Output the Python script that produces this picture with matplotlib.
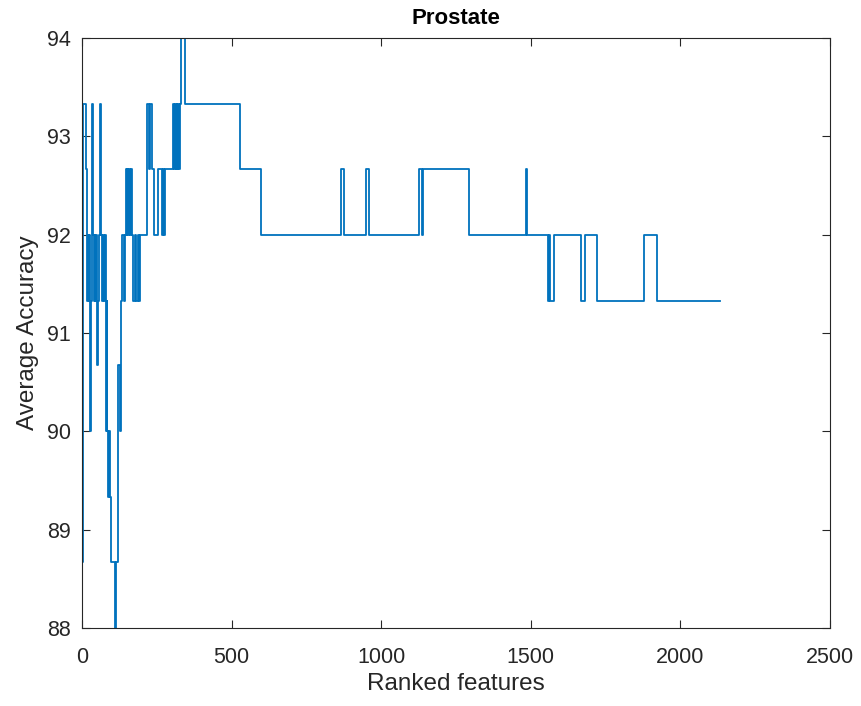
import matplotlib
matplotlib.use("Agg")
import matplotlib.pyplot as plt

plt.rcParams['font.family'] = ['Liberation Sans', 'DejaVu Sans']

# Step change points: (number of ranked features, average accuracy)
features = [1, 3, 14, 16, 19, 22, 25, 27, 30, 33, 36, 39, 42, 45, 48, 51, 54, 57,
            60, 64, 67, 70, 73, 76, 79, 82, 85, 88, 91, 94, 97, 110, 113, 120, 126,
            130, 134, 140, 143, 146, 149, 152, 155, 158, 161, 164, 167, 170, 176,
            179, 186, 190, 194, 217, 224, 228, 234, 240, 255, 266, 270, 274, 278,
            304, 307, 310, 313, 316, 319, 322, 325, 328, 331, 345, 528, 597, 866,
            876, 949, 959, 1126, 1135, 1139, 1294, 1483, 1487, 1558, 1562, 1565,
            1578, 1669, 1681, 1720, 1878, 1923, 2132]
accuracy = [88.67, 93.33, 92.67, 91.33, 92.0, 91.33, 92.0, 90.0, 91.33, 93.33,
            92.0, 91.33, 92.0, 91.33, 92.0, 90.67, 91.33, 92.0, 93.33, 92.0, 91.33,
            92.0, 91.33, 92.0, 90.0, 91.33, 90.0, 89.33, 90.0, 89.33, 88.67, 88.0,
            88.67, 90.67, 90.0, 91.33, 92.0, 91.33, 92.0, 92.67, 92.0, 92.67, 92.0,
            92.67, 92.0, 92.67, 92.0, 91.33, 92.0, 91.33, 92.0, 91.33, 92.0, 93.33,
            92.67, 93.33, 92.67, 92.0, 92.67, 92.0, 92.67, 92.0, 92.67, 93.33,
            92.67, 93.33, 92.67, 93.33, 92.67, 93.33, 92.67, 93.33, 94.0, 93.33,
            92.67, 92.0, 92.67, 92.0, 92.67, 92.0, 92.67, 92.0, 92.67, 92.0, 92.67,
            92.0, 91.33, 92.0, 91.33, 92.0, 91.33, 92.0, 91.33, 92.0, 91.33, 91.33]

xticks = [0, 500, 1000, 1500, 2000, 2500]
yticks = [88, 89, 90, 91, 92, 93, 94]

fig = plt.figure(figsize=(8.62, 7.06), dpi=100)
ax = fig.add_axes([82/862, 1 - 628/706, (830 - 82)/862, (628 - 38)/706])
ax.plot(features, accuracy, drawstyle='steps-post', color='#0072BD', lw=1.3)
ax.set_xlim(0, 2500)
ax.set_ylim(88, 94)
ax.set_xticks(xticks)
ax.set_yticks(yticks)
ax.tick_params(direction='in', length=6, width=0.8, colors='#262626',
               labelsize=15.5, top=True, right=True)
ax.tick_params(axis='x', pad=14)
ax.tick_params(axis='y', pad=8)
for s in ax.spines.values():
    s.set_color('#262626')
    s.set_linewidth(0.8)
ax.set_xlabel('Ranked features', fontsize=17.5, color='#262626', labelpad=3)
ax.set_ylabel('Average Accuracy', fontsize=17.5, color='#262626', labelpad=6)
ax.set_title('Prostate', fontsize=16, fontweight='bold', color='black', pad=10)
fig.savefig('out.png', dpi=100)
